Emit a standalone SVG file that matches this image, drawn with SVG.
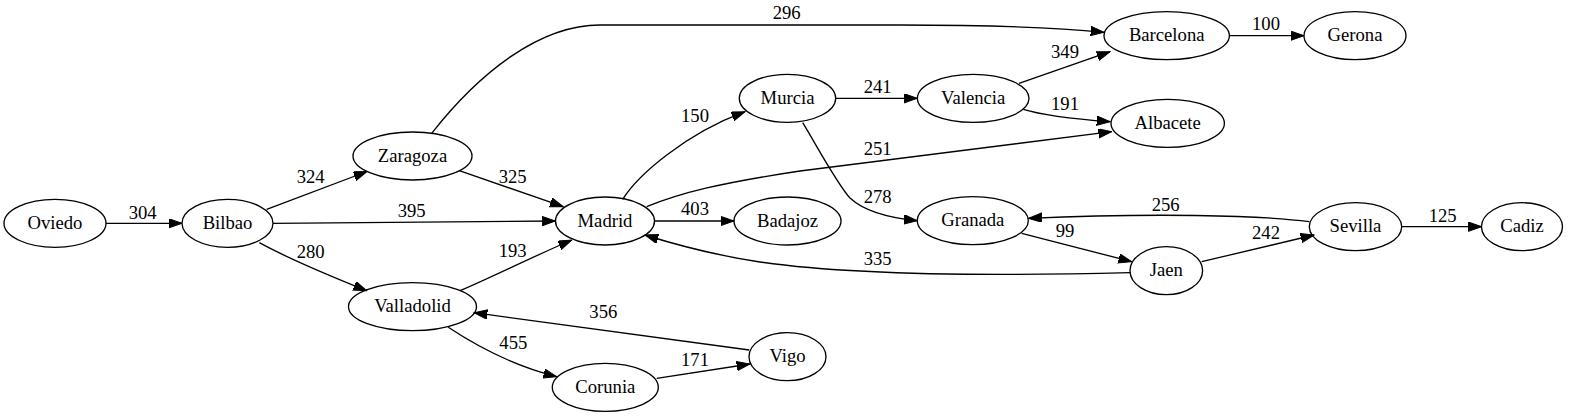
<svg xmlns="http://www.w3.org/2000/svg" width="1572" height="417" viewBox="0 0 1572 417" font-family="Liberation Serif, Times New Roman, Times, serif">
<style>
.n ellipse{fill:none;stroke:#000;stroke-width:1.33}
text{font-size:18.67px;fill:#000;text-anchor:middle}
.e path{fill:none;stroke:#000;stroke-width:1.33;marker-end:url(#arr)}
</style>
<defs>
<marker id="arr" markerUnits="userSpaceOnUse" markerWidth="14" markerHeight="10" refX="13.3" refY="4.67" orient="auto">
<path d="M0,0 L13.3,4.67 L0,9.33 z" fill="#000" stroke="#000" stroke-width="1"/>
</marker>
</defs>
<rect width="1572" height="417" fill="#fff"/>
<g id="edges" class="e">
<path d="M106,223.3 L182,223.3"/>
<path d="M266.7,209.3 L367,171.5"/>
<path d="M273,223.3 L555.5,221"/>
<path d="M259.3,242.7 C280,254 315,270 366.7,290.7"/>
<path d="M431.7,133.3 C480,72 540,25 600,25 L900,25 C1000,25 1060,28 1104,32.3"/>
<path d="M459.3,170.7 L563.3,206.7"/>
<path d="M460,290.7 C490,278 530,258 571.7,240"/>
<path d="M448.3,327.3 C475,345 510,365 556.7,376.7"/>
<path d="M656.7,378.3 L750,364"/>
<path d="M749.3,350 L474,312.7"/>
<path d="M622.7,199.3 C638,175 685,134 745,111.7"/>
<path d="M646.7,206.7 C680,193 720,183 800,171 L1111.7,131.7"/>
<path d="M655,221 L734,221"/>
<path d="M835.7,98.3 L917.3,98.3"/>
<path d="M802.7,122.7 C818,148 838,185 850,198 C865,212 890,218 917.3,220.7"/>
<path d="M1019,83.3 L1110,51.7"/>
<path d="M1023.3,109.3 C1045,116 1075,119 1110,121.7"/>
<path d="M1021.7,233.3 L1131.7,261.7"/>
<path d="M1130,272.7 C1000,276 850,275 760,262 C720,256 680,246 645,235"/>
<path d="M1201.7,261.7 L1314,235"/>
<path d="M1309.3,221.7 C1260,215 1150,213 1028.5,218.3"/>
<path d="M1401.7,226.7 L1481.7,226.7"/>
<path d="M1229.3,35.7 L1304,35.7"/>
</g>
<g id="edge-labels">
<text x="142.7" y="219">304</text>
<text x="310.7" y="182.7">324</text>
<text x="411.7" y="217.3">395</text>
<text x="310.7" y="257.7">280</text>
<text x="786.7" y="19">296</text>
<text x="512.7" y="182.7">325</text>
<text x="512.7" y="257.3">193</text>
<text x="513.3" y="349.3">455</text>
<text x="695" y="365.7">171</text>
<text x="603.3" y="318.3">356</text>
<text x="695" y="121.7">150</text>
<text x="877.7" y="155">251</text>
<text x="695" y="215">403</text>
<text x="877.7" y="93">241</text>
<text x="877.7" y="203.3">278</text>
<text x="1065" y="58">349</text>
<text x="1065" y="110">191</text>
<text x="1065" y="237.3">99</text>
<text x="877.7" y="265">335</text>
<text x="1266" y="239.3">242</text>
<text x="1165.7" y="210.7">256</text>
<text x="1442.7" y="221.7">125</text>
<text x="1266" y="30">100</text>
</g>
<g id="Oviedo" class="n"><ellipse cx="55" cy="223.3" rx="51" ry="24"/><text x="55" y="228.8">Oviedo</text></g>
<g id="Bilbao" class="n"><ellipse cx="227.5" cy="223.3" rx="45.5" ry="24"/><text x="227.5" y="228.8">Bilbao</text></g>
<g id="Zaragoza" class="n"><ellipse cx="412.5" cy="156" rx="59.5" ry="24"/><text x="412.5" y="161.5">Zaragoza</text></g>
<g id="Valladolid" class="n"><ellipse cx="412.5" cy="306.7" rx="64" ry="24"/><text x="412.5" y="312.2">Valladolid</text></g>
<g id="Madrid" class="n"><ellipse cx="605" cy="221" rx="49.5" ry="24"/><text x="605" y="226.5">Madrid</text></g>
<g id="Corunia" class="n"><ellipse cx="605.3" cy="387.3" rx="53" ry="24"/><text x="605.3" y="392.8">Corunia</text></g>
<g id="Murcia" class="n"><ellipse cx="787.5" cy="98.3" rx="48.2" ry="24"/><text x="787.5" y="103.8">Murcia</text></g>
<g id="Badajoz" class="n"><ellipse cx="787.5" cy="221" rx="53.5" ry="24"/><text x="787.5" y="226.5">Badajoz</text></g>
<g id="Vigo" class="n"><ellipse cx="787.5" cy="356.7" rx="38.5" ry="24"/><text x="787.5" y="362.2">Vigo</text></g>
<g id="Valencia" class="n"><ellipse cx="973.2" cy="98.3" rx="55.8" ry="24"/><text x="973.2" y="103.8">Valencia</text></g>
<g id="Granada" class="n"><ellipse cx="972.8" cy="220.7" rx="55.5" ry="24"/><text x="972.8" y="226.2">Granada</text></g>
<g id="Barcelona" class="n"><ellipse cx="1166.7" cy="35.7" rx="62.7" ry="24"/><text x="1166.7" y="41.2">Barcelona</text></g>
<g id="Albacete" class="n"><ellipse cx="1167.7" cy="123.3" rx="56.7" ry="24"/><text x="1167.7" y="128.8">Albacete</text></g>
<g id="Jaen" class="n"><ellipse cx="1166.3" cy="270.7" rx="36.3" ry="24"/><text x="1166.3" y="276.2">Jaen</text></g>
<g id="Gerona" class="n"><ellipse cx="1355" cy="35.7" rx="51" ry="24"/><text x="1355" y="41.2">Gerona</text></g>
<g id="Sevilla" class="n"><ellipse cx="1355.5" cy="226.7" rx="46.2" ry="24"/><text x="1355.5" y="232.2">Sevilla</text></g>
<g id="Cadiz" class="n"><ellipse cx="1522" cy="226.7" rx="40.5" ry="24"/><text x="1522" y="232.2">Cadiz</text></g>
</svg>
